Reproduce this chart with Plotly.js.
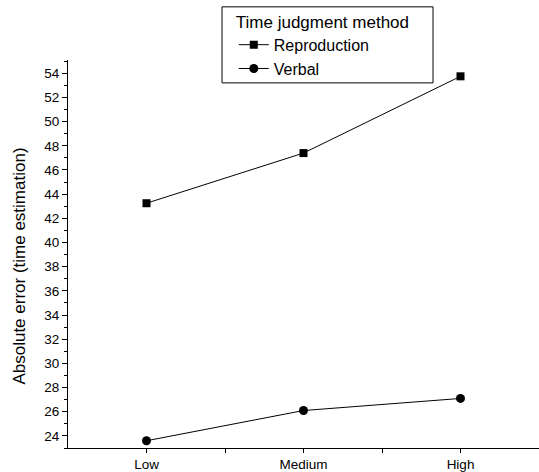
<!DOCTYPE html>
<html>
<head>
<meta charset="utf-8">
<script src="https://cdn.plot.ly/plotly-3.0.1.min.js"></script>
<style>html,body{margin:0;padding:0;background:#fff;}#chart{width:539px;height:472px;}</style>
</head>
<body>
<div id="chart"></div>
<script>
const categories = ['Low', 'Medium', 'High'];
const reproduction = [43.25, 47.4, 53.75];
const verbal = [23.6, 26.1, 27.1];
const seriesNames = ['Reproduction', 'Verbal'];
const legendTitle = 'Time judgment method';
const yTitle = 'Absolute error (time estimation)';

const xIdx = categories.map((c, i) => i);
const FONT = 'Liberation Sans, Arial, sans-serif';

const traces = [
  {x: xIdx, y: reproduction, name: seriesNames[0], type: 'scatter', mode: 'lines+markers',
   line: {color: '#000', width: 1}, marker: {symbol: 'square', size: 8, color: '#000'}},
  {x: xIdx, y: verbal, name: seriesNames[1], type: 'scatter', mode: 'lines+markers',
   line: {color: '#000', width: 1}, marker: {symbol: 'circle', size: 9, color: '#000'}}
];

const layout = {
  width: 539, height: 472,
  margin: {l: 68, r: 0, t: 60, b: 24, pad: 0},
  paper_bgcolor: '#fff', plot_bgcolor: '#fff',
  font: {family: FONT, color: '#000'},
  showlegend: true,
  legend: {
    x: 0.352, y: 1.14, xanchor: 'left', yanchor: 'top',
    borderwidth: 0, bgcolor: 'rgba(0,0,0,0)',
    font: {family: FONT, size: 16, color: '#000'},
    title: {text: legendTitle, font: {family: FONT, size: 17, color: '#000'}},
    tracegroupgap: 0
  },
  shapes: [
    {type: 'rect', xref: 'paper', yref: 'paper', x0: 0.327, x1: 0.775, y0: 0.941, y1: 1.137,
     line: {color: '#000', width: 1}, fillcolor: 'rgba(0,0,0,0)', layer: 'below'}
  ],
  annotations: [
    {text: yTitle, xref: 'paper', yref: 'paper', x: -0.102, y: 0.47, textangle: -90,
     showarrow: false, xanchor: 'center', yanchor: 'middle',
     font: {family: FONT, size: 17, color: '#000'}}
  ],
  xaxis: {
    range: [-0.5, 2.5], tickmode: 'array', tickvals: xIdx, ticktext: categories,
    showgrid: false, zeroline: false, showline: true, linecolor: '#000', linewidth: 1,
    ticks: 'outside', ticklen: 4, tickwidth: 1, tickcolor: '#000',
    tickfont: {family: FONT, size: 13.5, color: '#000'},
    minor: {tickmode: 'array', tickvals: [0.5, 1.5], ticks: 'outside', ticklen: 4, tickcolor: '#000', showgrid: false},
    fixedrange: true
  },
  yaxis: {
    range: [23, 55.1], tick0: 24, dtick: 2,
    showgrid: false, zeroline: false, showline: true, linecolor: '#000', linewidth: 1,
    ticks: 'outside', ticklen: 5, tickwidth: 1, tickcolor: '#000',
    tickfont: {family: FONT, size: 13.5, color: '#000'},
    minor: {dtick: 1, ticks: 'outside', ticklen: 3, tickcolor: '#000', showgrid: false},
    fixedrange: true
  }
};

Plotly.newPlot('chart', traces, layout, {displayModeBar: false, staticPlot: true});
</script>
</body>
</html>
